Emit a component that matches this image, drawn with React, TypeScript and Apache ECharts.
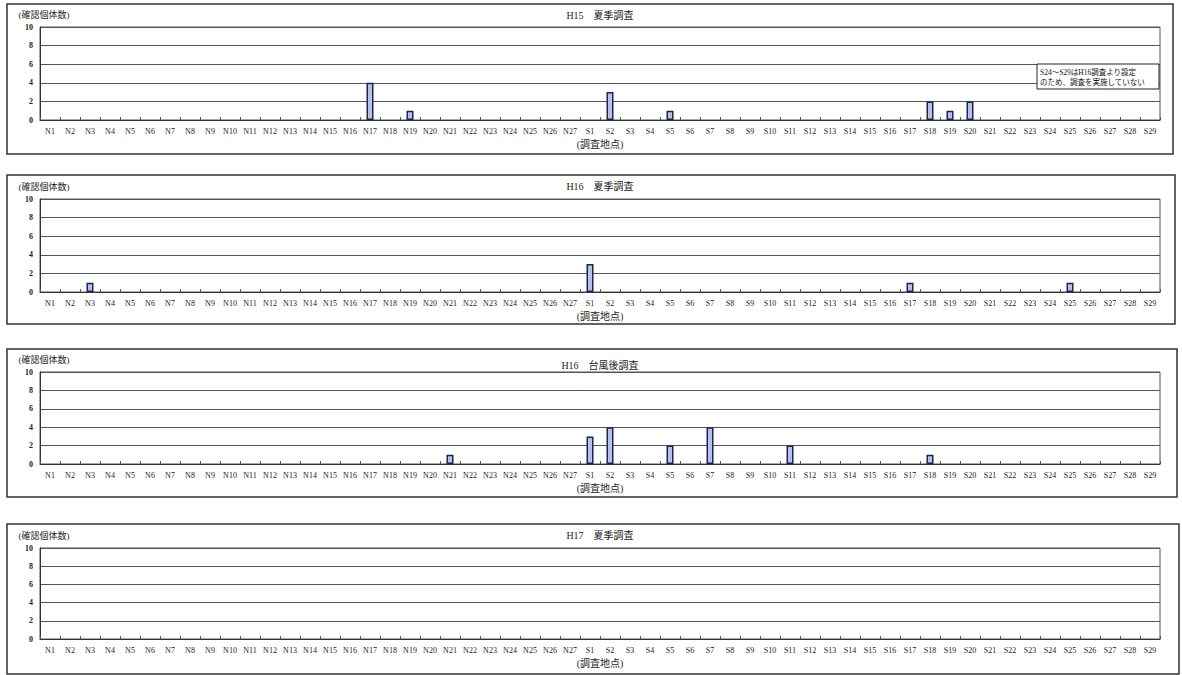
import React, { useEffect, useRef } from "react";
import * as echarts from "echarts";

// ---- data ----
const categories = [
  "N1", "N2", "N3", "N4", "N5", "N6", "N7", "N8", "N9", "N10",
  "N11", "N12", "N13", "N14", "N15", "N16", "N17", "N18", "N19", "N20",
  "N21", "N22", "N23", "N24", "N25", "N26", "N27",
  "S1", "S2", "S3", "S4", "S5", "S6", "S7", "S8", "S9", "S10",
  "S11", "S12", "S13", "S14", "S15", "S16", "S17", "S18", "S19", "S20",
  "S21", "S22", "S23", "S24", "S25", "S26", "S27", "S28", "S29",
];

const panelTitles = ["H15　夏季調査", "H16　夏季調査", "H16　台風後調査", "H17　夏季調査"];
const yTickValues = [0, 2, 4, 6, 8, 10];
const yAxisName = "(確認個体数)";
const xAxisName = "(調査地点)";
const noteText = "S24～S29はH16調査より設定\nのため、調査を実施していない";

// H15 summer (S24–S29 not surveyed)
const h15SummerN = [0, 0, 0, 0, 0, 0, 0, 0, 0, 0, 0, 0, 0, 0, 0, 0, 4, 0, 1, 0, 0, 0, 0, 0, 0, 0, 0];
const h15SummerS = [0, 3, 0, 0, 1, 0, 0, 0, 0, 0, 0, 0, 0, 0, 0, 0, 0, 2, 1, 2, 0, 0, 0, null, null, null, null, null, null];
// H16 summer
const h16SummerN = [0, 0, 1, 0, 0, 0, 0, 0, 0, 0, 0, 0, 0, 0, 0, 0, 0, 0, 0, 0, 0, 0, 0, 0, 0, 0, 0];
const h16SummerS = [3, 0, 0, 0, 0, 0, 0, 0, 0, 0, 0, 0, 0, 0, 0, 0, 1, 0, 0, 0, 0, 0, 0, 0, 1, 0, 0, 0, 0];
// H16 after typhoon
const h16TyphoonN = [0, 0, 0, 0, 0, 0, 0, 0, 0, 0, 0, 0, 0, 0, 0, 0, 0, 0, 0, 0, 1, 0, 0, 0, 0, 0, 0];
const h16TyphoonS = [3, 4, 0, 0, 2, 0, 4, 0, 0, 0, 2, 0, 0, 0, 0, 0, 0, 1, 0, 0, 0, 0, 0, 0, 0, 0, 0, 0, 0];
// H17 summer
const h17SummerN = [0, 0, 0, 0, 0, 0, 0, 0, 0, 0, 0, 0, 0, 0, 0, 0, 0, 0, 0, 0, 0, 0, 0, 0, 0, 0, 0];
const h17SummerS = [0, 0, 0, 0, 0, 0, 0, 0, 0, 0, 0, 0, 0, 0, 0, 0, 0, 0, 0, 0, 0, 0, 0, 0, 0, 0, 0, 0, 0];

const seriesData = [
  [...h15SummerN, ...h15SummerS],
  [...h16SummerN, ...h16SummerS],
  [...h16TyphoonN, ...h16TyphoonS],
  [...h17SummerN, ...h17SummerS],
];

// ---- layout ----
const FONT = "'Liberation Serif', 'Noto Sans CJK JP', serif";
const gridTops = [27, 199, 372, 548];
const gridHeights = [93, 93, 92, 91];
const frames = [
  { y: 4, h: 150, w: 1166 },
  { y: 175, h: 149, w: 1168 },
  { y: 349, h: 148, w: 1170 },
  { y: 524, h: 150, w: 1172 },
];
const titleTops = [10, 181, 360, 530];

export default function App() {
  const ref = useRef<HTMLDivElement>(null);

  useEffect(() => {
    if (!ref.current) return;
    const chart = echarts.init(ref.current, undefined, { renderer: "svg" });

    const grid = seriesData.map((_, i) => ({
      left: 40,
      width: 1120,
      top: gridTops[i],
      height: gridHeights[i],
      show: true,
      borderColor: "#555",
      borderWidth: 1,
      backgroundColor: "transparent",
    }));

    const xAxis = seriesData.map((_, i) => ({
      type: "category",
      gridIndex: i,
      data: categories,
      name: xAxisName,
      nameLocation: "middle",
      nameGap: 19,
      nameTextStyle: { fontSize: 10, fontFamily: FONT, color: "#222" },
      axisLine: { show: true, lineStyle: { color: "#333", width: 1 } },
      axisTick: { show: true, inside: true, length: 3, lineStyle: { color: "#555" } },
      axisLabel: { interval: 0, fontSize: 8, margin: 7, color: "#222", fontFamily: FONT },
      splitLine: { show: false },
    }));

    const yAxis = seriesData.map((_, i) => ({
      type: "value",
      gridIndex: i,
      min: yTickValues[0],
      max: yTickValues[yTickValues.length - 1],
      interval: yTickValues[1] - yTickValues[0],
      name: yAxisName,
      nameLocation: "end",
      nameGap: 8,
      nameTextStyle: { fontSize: 9, fontFamily: FONT, color: "#222", align: "center", padding: [0, 0, 0, 8] },
      axisLine: { show: true, lineStyle: { color: "#333", width: 1 } },
      axisTick: { show: false },
      axisLabel: { fontSize: 8, margin: 7, color: "#222", fontFamily: FONT, fontWeight: "bold" },
      splitLine: { show: true, lineStyle: { color: "#555", width: 1 } },
    }));

    const series = seriesData.map((d, i) => ({
      type: "bar",
      name: panelTitles[i],
      xAxisIndex: i,
      yAxisIndex: i,
      data: d.map((v) => (v ? v : { value: v, itemStyle: { borderWidth: 0, color: "transparent" } })),
      barWidth: 7,
      itemStyle: { color: "#b5c2e2", borderColor: "#1c2358", borderWidth: 1.5 },
    }));

    const title = panelTitles.map((t, i) => ({
      text: t,
      left: 600,
      top: titleTops[i],
      textAlign: "center",
      padding: 0,
      textStyle: { fontSize: 10, fontWeight: "normal", fontFamily: FONT, color: "#222" },
    }));

    const graphic: any[] = frames.map((f) => ({
      type: "rect",
      z: 0,
      silent: true,
      shape: { x: 7, y: f.y, width: f.w, height: f.h },
      style: { fill: "none", stroke: "#333", lineWidth: 1.5 },
    }));
    graphic.push({
      type: "rect",
      z: 100,
      shape: { x: 1037, y: 64, width: 122, height: 25 },
      style: { fill: "#fff", stroke: "#222", lineWidth: 1 },
    });
    graphic.push({
      type: "text",
      z: 101,
      x: 1040,
      y: 67,
      style: {
        text: noteText,
        fontSize: 7.5,
        lineHeight: 10,
        verticalAlign: "top",
        fill: "#111",
        fontFamily: FONT,
      },
    });

    chart.setOption({
      animation: false,
      backgroundColor: "#fff",
      title,
      grid,
      xAxis,
      yAxis,
      series,
      graphic,
    } as any);

    return () => chart.dispose();
  }, []);

  return (
    <div
      ref={ref}
      style={{ position: "absolute", left: 0, top: 0, width: 1182, height: 675, background: "#fff" }}
    />
  );
}
